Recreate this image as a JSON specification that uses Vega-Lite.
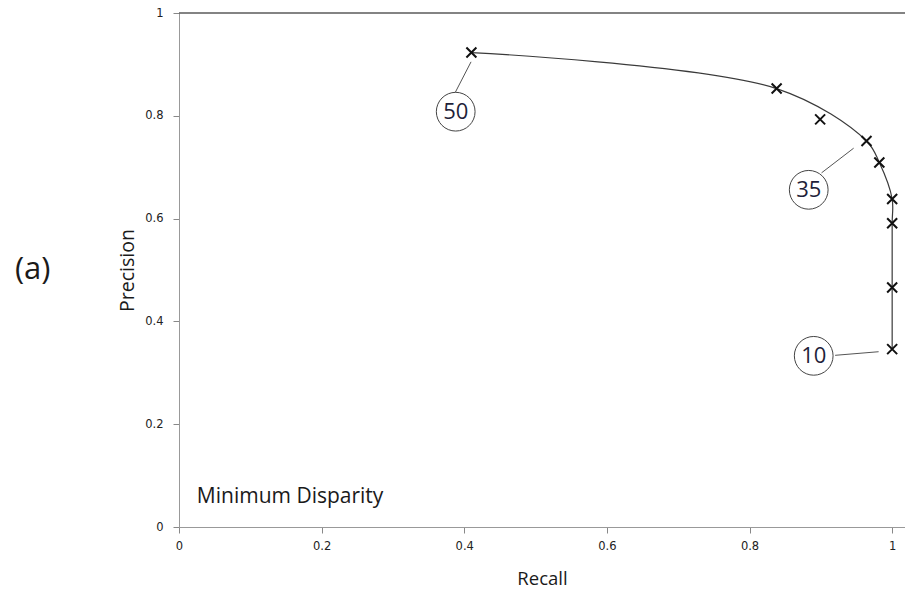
{
  "$schema": "https://vega.github.io/schema/vega-lite/v6.json",
  "width": 726,
  "height": 514,
  "autosize": {"type": "none"},
  "padding": {"left": 179, "top": 13, "right": 0, "bottom": 66},
  "background": "white",
  "config": {
    "view": {"stroke": null},
    "axis": {"grid": false}
  },
  "datasets": {
    "curve": [
      {"order": 1, "recall": 0.41, "precision": 0.923},
      {"order": 2, "recall": 0.838, "precision": 0.853},
      {"order": 3, "recall": 0.964, "precision": 0.751},
      {"order": 4, "recall": 0.982, "precision": 0.709},
      {"order": 5, "recall": 1.0, "precision": 0.638},
      {"order": 6, "recall": 1.0, "precision": 0.591},
      {"order": 7, "recall": 1.0, "precision": 0.466},
      {"order": 8, "recall": 1.0, "precision": 0.346}
    ],
    "points": [
      {"recall": 0.41, "precision": 0.923},
      {"recall": 0.838, "precision": 0.853},
      {"recall": 0.899, "precision": 0.793},
      {"recall": 0.964, "precision": 0.751},
      {"recall": 0.982, "precision": 0.709},
      {"recall": 1.0, "precision": 0.638},
      {"recall": 1.0, "precision": 0.591},
      {"recall": 1.0, "precision": 0.466},
      {"recall": 1.0, "precision": 0.346}
    ],
    "callouts": [
      {"label": "50", "cx": 0.388, "cy": 0.808, "x1": 0.4095, "y1": 0.905, "x2": 0.366, "y2": 0.788},
      {"label": "35", "cx": 0.883, "cy": 0.656, "x1": 0.946, "y1": 0.737, "x2": 0.901, "y2": 0.689},
      {"label": "10", "cx": 0.890, "cy": 0.333, "x1": 0.920, "y1": 0.334, "x2": 0.981, "y2": 0.341}
    ],
    "notes": [
      {"text": "Minimum Disparity", "x": 0.025, "y": 0.058, "size": 21},
      {"text": "(a)", "x": -0.23, "y": 0.5, "size": 31}
    ]
  },
  "layer": [
    {
      "data": {"name": "curve"},
      "mark": {"type": "line", "interpolate": "catmull-rom", "color": "#3a3a3a", "strokeWidth": 1.2},
      "encoding": {
        "x": {
          "field": "recall", "type": "quantitative",
          "scale": {"domain": [0, 1.018], "nice": false, "zero": true},
          "axis": {
            "values": [0, 0.2, 0.4, 0.6, 0.8, 1],
            "format": "~g",
            "title": "Recall",
            "titleFont": "Open Sans", "titleFontSize": 18.5, "titleFontWeight": "normal", "titleColor": "#1a1a1a",
            "titleX": 363, "titleY": 51, "titleBaseline": "middle",
            "labelFont": "DejaVu Sans", "labelFontSize": 11.5, "labelColor": "#222222",
            "labelPadding": 7, "tickSize": 6, "tickColor": "#888888", "domainColor": "#999999",
            "labelFlush": false
          }
        },
        "y": {
          "field": "precision", "type": "quantitative",
          "scale": {"domain": [0, 1], "nice": false},
          "axis": {
            "values": [0, 0.2, 0.4, 0.6, 0.8, 1],
            "format": "~g",
            "title": "Precision",
            "titleFont": "Open Sans", "titleFontSize": 19.5, "titleFontWeight": "normal", "titleColor": "#1a1a1a",
            "titleX": -52, "titleY": 257, "titleBaseline": "middle", "titleAngle": 270,
            "labelFont": "DejaVu Sans", "labelFontSize": 11.5, "labelColor": "#222222",
            "labelPadding": 10, "tickSize": 6, "tickColor": "#888888", "domainColor": "#999999",
            "labelFlush": false
          }
        },
        "order": {"field": "order", "type": "quantitative"}
      }
    },
    {
      "data": {"values": [{"y": 1}]},
      "mark": {"type": "rule", "color": "#5a5a5a", "strokeWidth": 1.5},
      "encoding": {"y": {"field": "y", "type": "quantitative"}}
    },
    {
      "data": {"name": "callouts"},
      "mark": {"type": "rule", "color": "#555555", "strokeWidth": 1},
      "encoding": {
        "x": {"field": "x1", "type": "quantitative"},
        "y": {"field": "y1", "type": "quantitative"},
        "x2": {"field": "x2"},
        "y2": {"field": "y2"}
      }
    },
    {
      "data": {"name": "callouts"},
      "mark": {"type": "point", "shape": "circle", "size": 1500, "filled": true, "fill": "white", "stroke": "#444444", "strokeWidth": 1, "opacity": 1},
      "encoding": {
        "x": {"field": "cx", "type": "quantitative"},
        "y": {"field": "cy", "type": "quantitative"}
      }
    },
    {
      "data": {"name": "callouts"},
      "mark": {"type": "text", "font": "Open Sans", "fontSize": 22, "color": "#1f1f3a", "align": "center", "baseline": "middle"},
      "encoding": {
        "x": {"field": "cx", "type": "quantitative"},
        "y": {"field": "cy", "type": "quantitative"},
        "text": {"field": "label"}
      }
    },
    {
      "data": {"name": "points"},
      "mark": {"type": "point", "shape": "M-1,-1L1,1M1,-1L-1,1", "size": 100, "filled": false, "stroke": "#111111", "strokeWidth": 2, "opacity": 1},
      "encoding": {
        "x": {"field": "recall", "type": "quantitative"},
        "y": {"field": "precision", "type": "quantitative"}
      }
    },
    {
      "data": {"name": "notes"},
      "mark": {"type": "text", "font": "Open Sans", "color": "#1a1a1a", "baseline": "middle", "align": "left", "clip": false},
      "encoding": {
        "x": {"field": "x", "type": "quantitative"},
        "y": {"field": "y", "type": "quantitative"},
        "text": {"field": "text"},
        "size": {"field": "size", "type": "quantitative", "scale": null}
      }
    }
  ]
}
